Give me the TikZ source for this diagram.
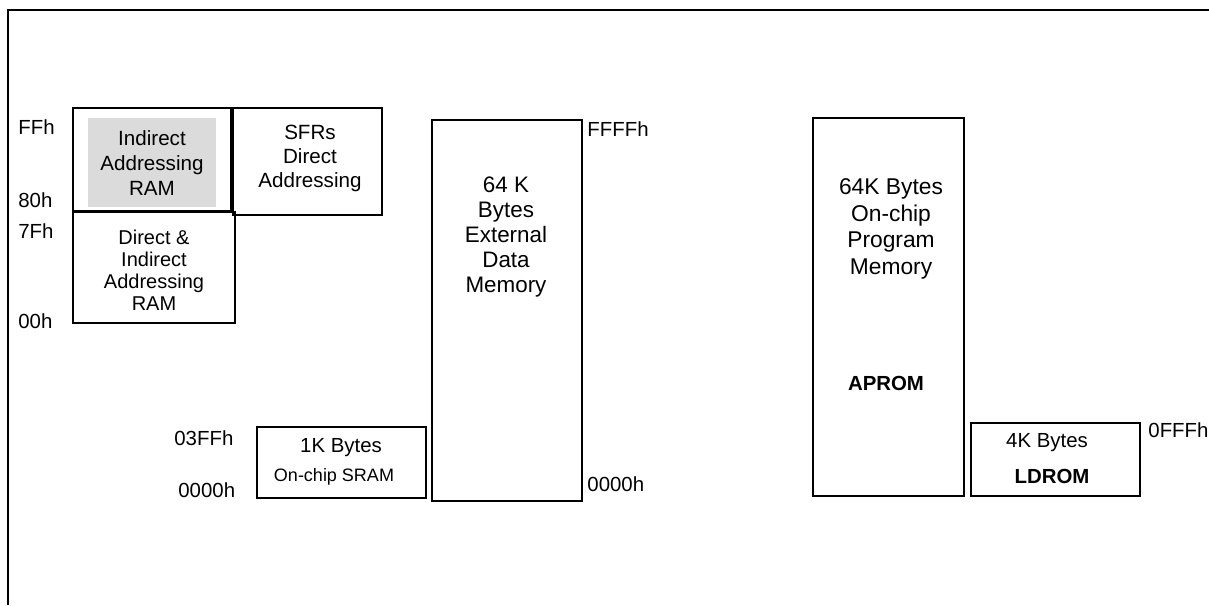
\documentclass[tikz,border=0pt]{standalone}
\usepackage{fontspec}
\setmainfont{Liberation Sans}
\begin{document}
\begin{tikzpicture}[x=0.5pt,y=-0.5pt,
  box/.style={draw=black,line width=0.9pt},
  lbl/.style={inner sep=0pt,anchor=west,font=\fontsize{10.2}{12}\selectfont},
  txt/.style={inner sep=0pt,align=center}]
\useasboundingbox (0,0) rectangle (1209,605);
\fill[white] (0,0) rectangle (1209,605);
% frame
\draw[line width=1.4pt] (8,605) -- (8,10) -- (1209,10);
% boxes
\fill[gray!28] (88,118) rectangle (216,207);
\draw[box] (73,108) rectangle (231,211);
\draw[box] (233,108) rectangle (382,215);
\draw[box] (73,212) rectangle (235,323);
\draw[box] (257,427) rectangle (426,498);
\draw[box] (432,120) rectangle (582,501);
\draw[box] (813,118) rectangle (964,496);
\draw[box] (971,423) rectangle (1140,496);
% box texts
\node[txt,font=\fontsize{10.3}{12.5}\selectfont] (ind) at (152,163) {Indirect\\Addressing\\RAM};
\node[txt,font=\fontsize{10.3}{12}\selectfont] (sfr) at (310,158) {SFRs\\Direct\\Addressing};
\node[txt,font=\fontsize{10}{11}\selectfont] (dir) at (154,270) {Direct \&\\Indirect\\Addressing\\RAM};
\node[txt,font=\fontsize{11.2}{12.6}\selectfont] (ext) at (506,237) {64 K\\Bytes\\External\\Data\\Memory};
\node[txt,font=\fontsize{11.4}{13.3}\selectfont] (prog) at (891,229) {64K Bytes\\On-chip\\Program\\Memory};
\node[txt,font=\bfseries\fontsize{10.2}{12}\selectfont] (aprom) at (886,383) {APROM};
\node[txt,font=\fontsize{10.2}{12}\selectfont] (sram1) at (341,448) {1K Bytes};
\node[txt,font=\fontsize{9}{11}\selectfont] (sram2) at (334,477) {On-chip SRAM};
\node[txt,font=\fontsize{10.2}{12}\selectfont] (ld1) at (1047,443) {4K Bytes};
\node[txt,font=\bfseries\fontsize{10.2}{12}\selectfont] (ld2) at (1052,476) {LDROM};
% address labels
\node[lbl] (aFF) at (18,127) {FFh};
\node[lbl] (a80) at (18,200) {80h};
\node[lbl] (a7F) at (18,231) {7Fh};
\node[lbl] (a00) at (18,321) {00h};
\node[lbl] (aFFFF) at (587,129) {FFFFh};
\node[lbl] (a0000r) at (587,484) {0000h};
\node[lbl] (a03FF) at (174,438) {03FFh};
\node[lbl] (a0000l) at (178,490) {0000h};
\node[lbl] (a0FFF) at (1148,430) {0FFFh};
\end{tikzpicture}
\end{document}
